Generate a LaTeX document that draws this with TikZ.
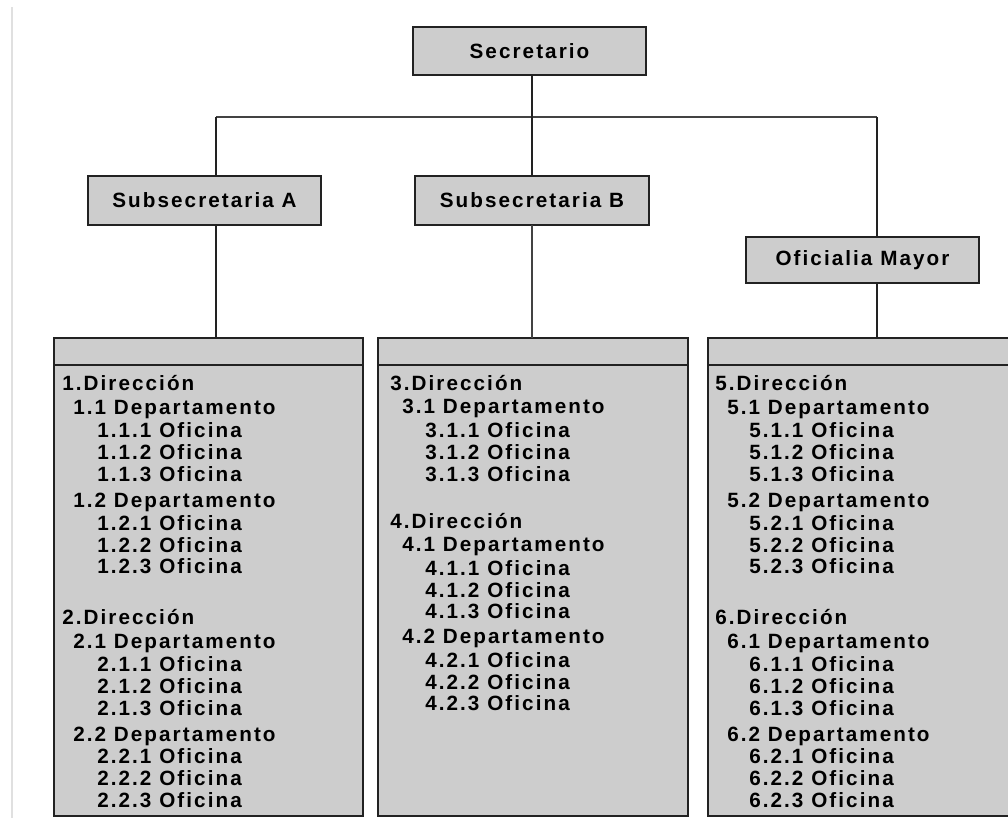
\documentclass[tikz,border=0pt]{standalone}
\usepackage{fontspec}
\newfontfamily\orgfont[LetterSpace=10]{Liberation Sans}
\usetikzlibrary{positioning}
\definecolor{cajagris}{HTML}{CDCDCD}
\definecolor{linea}{HTML}{222222}
\tikzset{
	caja/.style={draw=linea, fill=cajagris, line width=1.3pt, inner sep=0pt, outer sep=0pt,
		font=\orgfont\bfseries\fontsize{15.5}{17}\selectfont},
	item/.style={anchor=base west, inner sep=0pt, font=\orgfont\bfseries\fontsize{15.5}{17}\selectfont},
	enlace/.style={draw=linea, line width=1.2pt},
	bus/.style={draw=linea!85, line width=1pt}
}
\begin{document}
\begin{tikzpicture}[x=0.75pt,y=-0.75pt]
		\useasboundingbox (0,0) rectangle (1008,818);
		\draw[line width=2pt, black!12] (12,7) -- (12,818);
		
		\node[caja, minimum width=174.75pt, minimum height=36pt] (sec) at (529.5,51) {Secretario};
		\node[caja, minimum width=174.75pt, minimum height=36.75pt] (subA) at (204.5,200.5) {Subsecretaria A};
		\node[caja, minimum width=175.5pt, minimum height=36.75pt] (subB) at (532,200.5) {Subsecretaria B};
		\node[caja, minimum width=174.75pt, minimum height=34.5pt] (ofi) at (862.5,260) {Oficialia Mayor};
		
		\node[caja, minimum width=231.75pt, minimum height=20.25pt] (hdrA) at (208.5,351.5) {};
		\node[caja, minimum width=231.75pt, minimum height=338.25pt, below=0pt of hdrA] (listA) {};
		\node[caja, minimum width=232.5pt, minimum height=20.25pt] (hdrB) at (533,351.5) {};
		\node[caja, minimum width=232.5pt, minimum height=338.25pt, below=0pt of hdrB] (listB) {};
		\node[caja, minimum width=241.5pt, minimum height=20.25pt] (hdrC) at (869,351.5) {};
		\node[caja, minimum width=241.5pt, minimum height=338.25pt, below=0pt of hdrC] (listC) {};
		
		\coordinate (busA) at (216,117);
		\coordinate (busC) at (877,117);
		\draw[bus] (busA) -- (busC);
		\draw[enlace] (subB.north) -- (subB.north |- sec.south);
		\draw[enlace] (busA) -- (busA |- subA.north);
		\draw[enlace] (busC) -- (busC |- ofi.north);
		\draw[enlace] (busA |- subA.south) -- (busA |- hdrA.north);
		\draw[bus] (subB.south) -- (subB.south |- hdrB.north);
		\draw[enlace] (busC |- ofi.south) -- (busC |- hdrC.north);
		
		% Subsecretaria A
		\foreach \t/\x/\y [count=\i] in {1.Dirección/62/390, 1.1 Departamento/73/414,
			1.1.1 Oficina/97/437, 1.1.2 Oficina/97/459, 1.1.3 Oficina/97/481,
			1.2 Departamento/73/507, 1.2.1 Oficina/97/530, 1.2.2 Oficina/97/552, 1.2.3 Oficina/97/573,
			2.Dirección/62/624, 2.1 Departamento/73/648,
			2.1.1 Oficina/97/671, 2.1.2 Oficina/97/693, 2.1.3 Oficina/97/715,
			2.2 Departamento/73/741, 2.2.1 Oficina/97/763, 2.2.2 Oficina/97/785, 2.2.3 Oficina/97/807}
			\node[item] (a\i) at (\x,\y) {\t};
		
		% Subsecretaria B
		\foreach \t/\x/\y [count=\i] in {3.Dirección/390/390, 3.1 Departamento/402/413,
			3.1.1 Oficina/425/437, 3.1.2 Oficina/425/459, 3.1.3 Oficina/425/481,
			4.Dirección/390/528, 4.1 Departamento/402/551,
			4.1.1 Oficina/425/575, 4.1.2 Oficina/425/597, 4.1.3 Oficina/425/618,
			4.2 Departamento/402/643, 4.2.1 Oficina/425/667, 4.2.2 Oficina/425/689, 4.2.3 Oficina/425/710}
			\node[item] (b\i) at (\x,\y) {\t};
		
		% Oficialia Mayor
		\foreach \t/\x/\y [count=\i] in {5.Dirección/715/390, 5.1 Departamento/727/414,
			5.1.1 Oficina/749/437, 5.1.2 Oficina/749/459, 5.1.3 Oficina/749/481,
			5.2 Departamento/727/507, 5.2.1 Oficina/749/530, 5.2.2 Oficina/749/552, 5.2.3 Oficina/749/573,
			6.Dirección/715/624, 6.1 Departamento/727/648,
			6.1.1 Oficina/749/671, 6.1.2 Oficina/749/693, 6.1.3 Oficina/749/715,
			6.2 Departamento/727/741, 6.2.1 Oficina/749/763, 6.2.2 Oficina/749/785, 6.2.3 Oficina/749/807}
			\node[item] (c\i) at (\x,\y) {\t};
		
	\end{tikzpicture}
\end{document}
